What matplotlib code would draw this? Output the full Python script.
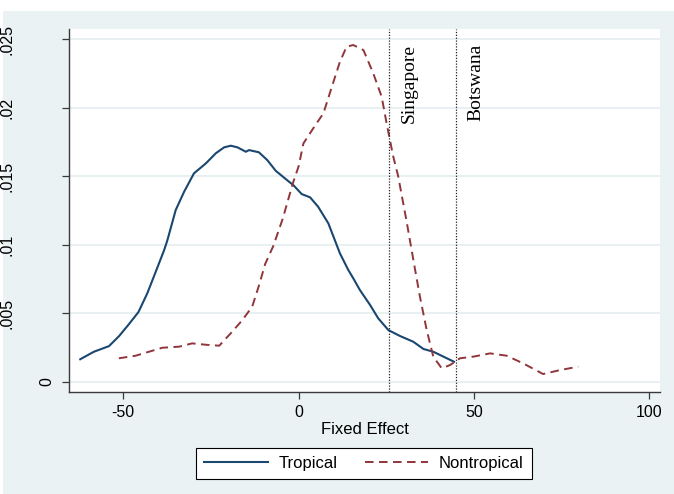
import numpy as np
import matplotlib
matplotlib.use('Agg')
import matplotlib.pyplot as plt
from matplotlib.patches import Rectangle
from matplotlib.transforms import ScaledTranslation

# kernel density of country fixed effects
trop_x = [-62.2, -58.3, -54.0, -51.1, -48.3, -45.6, -43.1, -40.5, -38.3, -37.4,
          -35.0, -32.6, -29.8, -26.4, -23.6, -21.2, -19.3, -17.4, -15.0, -14.1,
          -11.3, -8.9, -6.5, -2.7, -1.5, 0.9, 3.3, 5.6, 8.5, 11.8,
          14.2, 15.6, 17.5, 20.4, 22.7, 25.6, 28.9, 32.7, 35.6, 38.4,
          41.3, 44.3]
trop_y = [0.00164, 0.00219, 0.00260, 0.00334, 0.00421, 0.00509, 0.00645, 0.00815, 0.00960, 0.01030,
          0.01253, 0.01387, 0.01521, 0.01594, 0.01667, 0.01711, 0.01723, 0.01711, 0.01679, 0.01691,
          0.01675, 0.01618, 0.01540, 0.01460, 0.01436, 0.01370, 0.01346, 0.01277, 0.01156, 0.00937,
          0.00815, 0.00755, 0.00669, 0.00560, 0.00463, 0.00377, 0.00334, 0.00292, 0.00239, 0.00219,
          0.00183, 0.00146]

nontrop_x = [-51.2, -46.4, -42.6, -38.8, -34.0, -30.3, -26.4, -22.6, -18.9, -16.0,
             -13.2, -11.3, -9.5, -7.2, -4.5, -1.6, 0.0, 1.4, 4.2, 7.1,
             9.5, 11.8, 13.7, 15.6, 18.5, 21.3, 23.7, 25.1, 27.0, 28.4,
             30.8, 33.2, 34.6, 36.5, 38.4, 40.8, 43.2, 46.0, 49.8, 54.6,
             59.3, 64.0, 69.7, 74.5, 79.7]
nontrop_y = [0.00171, 0.00190, 0.00219, 0.00248, 0.00256, 0.00280, 0.00270, 0.00263, 0.00365, 0.00450,
             0.00548, 0.00700, 0.00860, 0.00990, 0.01190, 0.01450, 0.01570, 0.01740, 0.01850, 0.01960,
             0.02153, 0.02336, 0.02446, 0.02458, 0.02421, 0.02251, 0.02080, 0.01886, 0.01643, 0.01500,
             0.01170, 0.00820, 0.00620, 0.00380, 0.00183, 0.00098, 0.00122, 0.00171, 0.00183, 0.00207,
             0.00190, 0.00134, 0.00056, 0.00085, 0.00110]

countries = ['Singapore', 'Botswana']
country_fe = [25.9, 44.9]

xticks = [-50, 0, 50, 100]
yticks = [0, 0.005, 0.01, 0.015, 0.02, 0.025]
ytick_labels = ['0', '.005', '.01', '.015', '.02', '.025']

plt.rcParams['font.family'] = 'Liberation Sans'
plt.rcParams['axes.unicode_minus'] = False

navy = '#1A476F'
maroon = '#90353B'
bg = '#EAF2F3'

fig = plt.figure(figsize=(6.74, 4.94), dpi=100)
fig.patch.set_facecolor('white')
fig.add_artist(Rectangle((3/674, 0), 1, 483/494, transform=fig.transFigure,
                         facecolor=bg, edgecolor='none', zorder=0))

ax = fig.add_axes([69/674, 102/494, 591/674, 363/494])
ax.set_facecolor('white')

ax.plot(trop_x, trop_y, color=navy, lw=1.5, label='Tropical')
ax.plot(nontrop_x, nontrop_y, color=maroon, lw=1.4, ls=(0, (4.4, 2.8)), label='Nontropical')

for fe, name in zip(country_fe, countries):
    ax.axvline(fe, color='#222222', lw=0.9, ls=(0, (1, 1.3)))
    ax.text(fe + 6.8, 0.9587, name, transform=ax.get_xaxis_transform(),
            rotation=90, rotation_mode='anchor', ha='right', va='baseline',
            fontsize=14, family='Liberation Serif')

ax.set_xlim(-65.4, 103)
ax.set_ylim(-0.00075, 0.02575)

ax.set_axisbelow(True)
ax.yaxis.grid(True, color='#E3ECEE', lw=1.1)

for s in ['top', 'right']:
    ax.spines[s].set_visible(False)
for s in ['left', 'bottom']:
    ax.spines[s].set_color('#3a3a3a')
    ax.spines[s].set_linewidth(1.0)

ax.set_xticks(xticks)
ax.set_yticks(yticks, ytick_labels, rotation=90, va='center')
ax.tick_params(axis='both', length=5, width=0.9, color='#3a3a3a', labelsize=11.5)
ax.tick_params(axis='x', pad=4)
ax.tick_params(axis='y', pad=34)

# the "0" label sits much closer to the axis in the original
lab0 = ax.get_yticklabels()[0]
lab0.set_transform(lab0.get_transform() + ScaledTranslation(0.40, 0, fig.dpi_scale_trans))

ax.set_xlabel('Fixed Effect', fontsize=12, labelpad=2)

leg = fig.legend(loc='center', bbox_to_anchor=(364/674, 1 - 463.5/494), ncol=2,
                 fontsize=12, handlelength=3.8, handletextpad=0.66, columnspacing=1.62,
                 borderpad=0.5, frameon=True, fancybox=False)
leg.get_frame().set_edgecolor('black')
leg.get_frame().set_linewidth(0.8)
leg.get_frame().set_facecolor('white')
leg.get_frame().set_alpha(1)

fig.savefig('out.png', dpi=100, facecolor=fig.get_facecolor())
